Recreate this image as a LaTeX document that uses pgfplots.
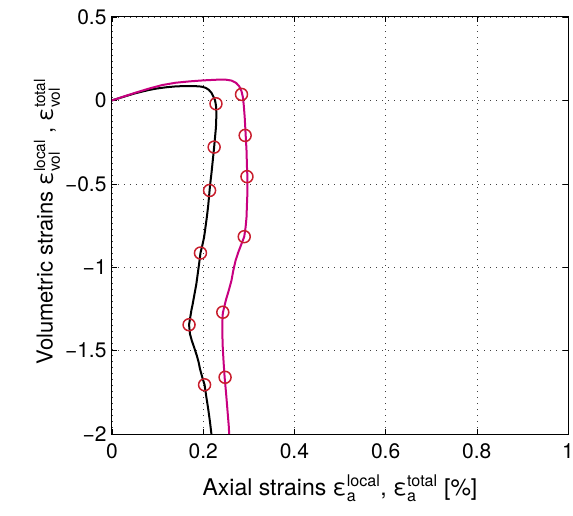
\documentclass[border=0pt]{standalone}
\usepackage{pgfplots}
\pgfplotsset{compat=1.18}
\usepackage{amsmath}
\usepackage{fontspec}
\setmainfont{TeX Gyre Heros}
\definecolor{mag}{RGB}{200,0,128}
\definecolor{cred}{RGB}{200,30,45}
\begin{document}
\begin{tikzpicture}
\useasboundingbox (-112pt,-81pt) rectangle (461pt,434pt);
\begin{axis}[
  width=456pt, height=417pt, scale only axis,
  xmin=0, xmax=1, ymin=-2, ymax=0.5,
  xtick={0,0.2,0.4,0.6,0.8,1},
  xticklabels={0,0.2,0.4,0.6,0.8,1},
  ytick={-2,-1.5,-1,-0.5,0,0.5},
  yticklabels={−2,−1.5,−1,−0.5,0,0.5},
  tick align=inside, major tick length=5pt,
  tick style={black, line width=0.6pt},
  grid=major,
  major grid style={black!75, dash pattern=on 1pt off 5pt, line width=0.6pt},
  axis line style={line width=1pt},
  ticklabel style={font=\fontsize{21}{25}\selectfont},
  xticklabel style={yshift=-6pt},
  yticklabel style={xshift=-2pt},
  xlabel style={font=\fontsize{23}{27}\selectfont, yshift=-9pt},
  ylabel style={font=\fontsize{22}{26}\selectfont, yshift=-2pt, xshift=4pt},
  xlabel={Axial strains ε$^{\text{local}}_{\text{a}}$, ε$^{\text{total}}_{\text{a}}$ [\%]},
  ylabel={Volumetric strains ε$^{\text{local}}_{\text{vol}}$ , ε$^{\text{total}}_{\text{vol}}$},
]
\addplot[black, line width=2pt] coordinates {
(0,0) (0.02,0.017) (0.05,0.042) (0.08,0.062) (0.10,0.072) (0.12,0.079) (0.14,0.084)
(0.16,0.086) (0.18,0.086) (0.195,0.083) (0.205,0.076) (0.212,0.064) (0.218,0.046)
(0.222,0.025) (0.226,0.0) (0.228,-0.03) (0.229,-0.08) (0.228,-0.16) (0.226,-0.22)
(0.224,-0.28) (0.221,-0.36) (0.218,-0.44) (0.215,-0.51) (0.213,-0.57) (0.211,-0.63)
(0.208,-0.70) (0.205,-0.76) (0.202,-0.82) (0.198,-0.87) (0.194,-0.915) (0.191,-0.98)
(0.188,-1.04) (0.185,-1.10) (0.181,-1.16) (0.177,-1.22) (0.174,-1.26) (0.171,-1.31)
(0.169,-1.345) (0.171,-1.40) (0.175,-1.44) (0.180,-1.48) (0.186,-1.53) (0.190,-1.57)
(0.193,-1.61) (0.198,-1.66) (0.203,-1.705) (0.207,-1.78) (0.211,-1.85) (0.215,-1.93)
(0.218,-2.0)
};
\addplot[mag, line width=2pt] coordinates {
(0,0) (0.02,0.018) (0.05,0.045) (0.08,0.070) (0.11,0.092) (0.14,0.106) (0.17,0.114)
(0.20,0.120) (0.23,0.124) (0.25,0.124) (0.262,0.119) (0.272,0.105) (0.279,0.085)
(0.284,0.055) (0.287,0.02) (0.289,-0.03) (0.291,-0.10) (0.293,-0.20) (0.295,-0.30)
(0.296,-0.40) (0.297,-0.46) (0.297,-0.55) (0.296,-0.62) (0.295,-0.70) (0.293,-0.76)
(0.290,-0.817) (0.284,-0.86) (0.277,-0.91) (0.271,-0.96) (0.266,-1.02) (0.262,-1.08)
(0.256,-1.14) (0.250,-1.195) (0.246,-1.24) (0.243,-1.275) (0.242,-1.33) (0.242,-1.40)
(0.243,-1.49) (0.245,-1.58) (0.247,-1.66) (0.250,-1.75) (0.253,-1.85) (0.256,-1.95)
(0.257,-2.0)
};
\addplot[only marks, mark=o, mark size=6pt, cred, mark options={line width=1.5pt}] coordinates {
(0.228,-0.02) (0.224,-0.28) (0.214,-0.54) (0.194,-0.915) (0.169,-1.345) (0.203,-1.705)
(0.284,0.036) (0.292,-0.21) (0.296,-0.457) (0.290,-0.817) (0.243,-1.27) (0.248,-1.66)
};
\end{axis}
\end{tikzpicture}
\end{document}
